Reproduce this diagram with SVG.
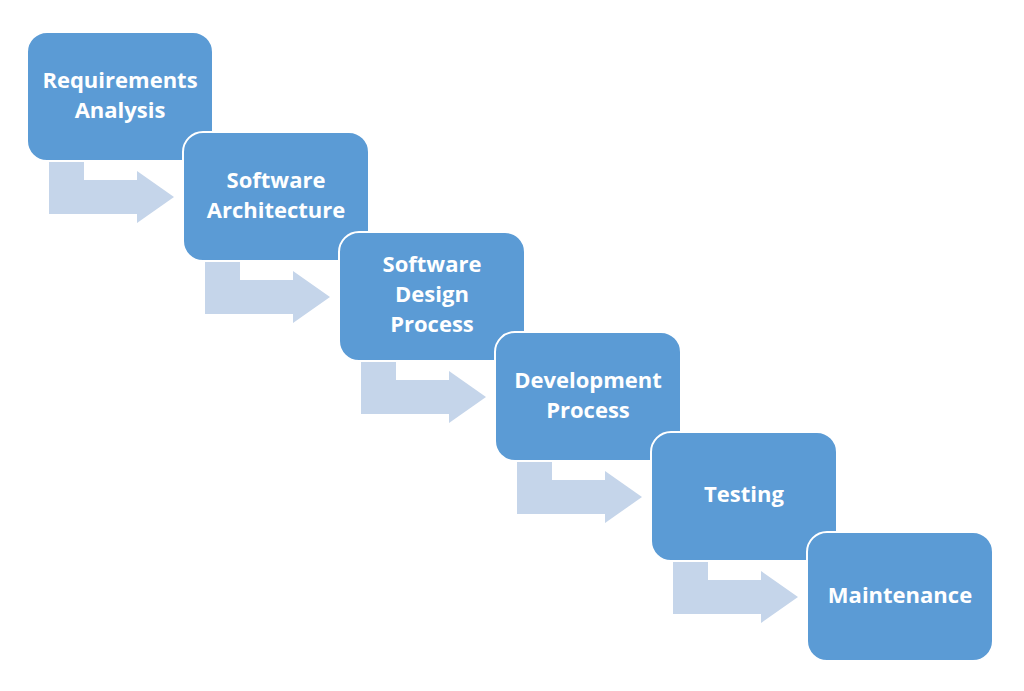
<svg xmlns="http://www.w3.org/2000/svg" width="1024" height="691" viewBox="0 0 1024 691">
<defs>
<style>
.box{fill:#5B9BD5;stroke:#FFFFFF;stroke-width:2}
.arr{fill:#C5D5EA;stroke:none}
.lbl{font-family:"Open Sans","Liberation Sans",sans-serif;font-weight:bold;font-size:22px;fill:#FFFFFF;text-anchor:middle}
</style>
<path id="bend" d="M22,129 L57,129 L57,148 L110,148 L110,139 L147,165 L110,191 L110,182 L22,182 Z"/>
</defs>
<rect width="1024" height="691" fill="#FFFFFF"/>
<g id="connectors">
<use href="#bend" class="arr" transform="translate(27,32)"/>
<use href="#bend" class="arr" transform="translate(183,132)"/>
<use href="#bend" class="arr" transform="translate(339,232)"/>
<use href="#bend" class="arr" transform="translate(495,332)"/>
<use href="#bend" class="arr" transform="translate(651,432)"/>
</g>
<g id="n1">
<rect class="box" x="27" y="32" width="186" height="129" rx="20"/>
<text class="lbl" x="120" y="88">Requirements</text>
<text class="lbl" x="120" y="118">Analysis</text>
</g>
<g id="n2">
<rect class="box" x="183" y="132" width="186" height="129" rx="20"/>
<text class="lbl" x="276" y="188">Software</text>
<text class="lbl" x="276" y="218">Architecture</text>
</g>
<g id="n3">
<rect class="box" x="339" y="232" width="186" height="129" rx="20"/>
<text class="lbl" x="432" y="272">Software</text>
<text class="lbl" x="432" y="302">Design</text>
<text class="lbl" x="432" y="332">Process</text>
</g>
<g id="n4">
<rect class="box" x="495" y="332" width="186" height="129" rx="20"/>
<text class="lbl" x="588" y="388">Development</text>
<text class="lbl" x="588" y="418">Process</text>
</g>
<g id="n5">
<rect class="box" x="651" y="432" width="186" height="129" rx="20"/>
<text class="lbl" x="744" y="502">Testing</text>
</g>
<g id="n6">
<rect class="box" x="807" y="532" width="186" height="129" rx="20"/>
<text class="lbl" x="900" y="603">Maintenance</text>
</g>
</svg>
